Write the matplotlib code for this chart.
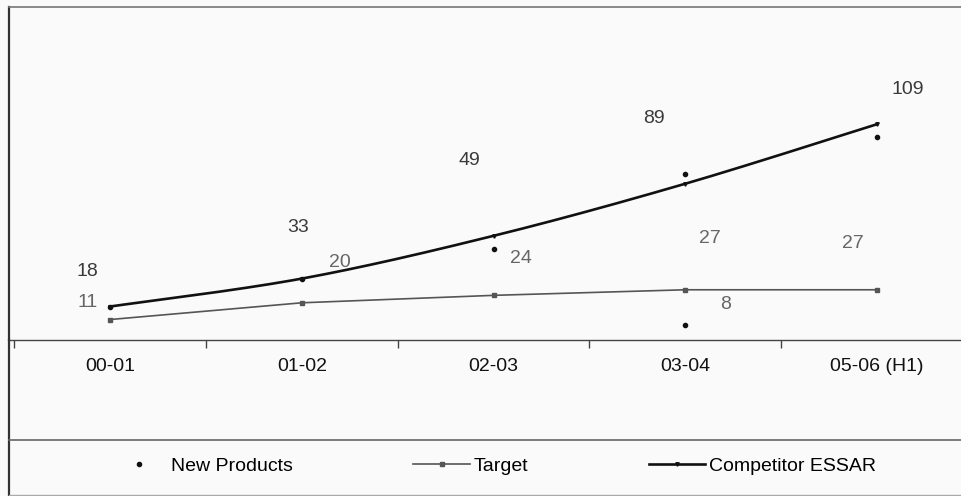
import numpy as np
import matplotlib.pyplot as plt
from matplotlib.lines import Line2D

plt.rcParams['font.family'] = ['Liberation Sans', 'DejaVu Sans']

# data
periods = ["00-01", "01-02", "02-03", "03-04", "05-06 (H1)"]
new_products = [18, 33, 49, 89, 109]
new_products_extra_period = 3
new_products_extra = 8
target = [11, 20, 24, 27, 27]
competitor = [18, 33, 56, 84, 116]


# Excel style smoothed line (bezier through the points)
def smooth(xs, ys, n=40):
    xs = np.asarray(xs, float)
    ys = np.asarray(ys, float)
    px = np.concatenate([[xs[0]], xs, [xs[-1]]])
    py = np.concatenate([[ys[0]], ys, [ys[-1]]])
    t = np.linspace(0, 1, n)
    out_x, out_y = [], []
    for i in range(len(xs) - 1):
        x0, x1, x2, x3 = px[i:i + 4]
        y0, y1, y2, y3 = py[i:i + 4]
        cx1, cy1 = x1 + (x2 - x0) / 6, y1 + (y2 - y0) / 6
        cx2, cy2 = x2 - (x3 - x1) / 6, y2 - (y3 - y1) / 6
        bx = (1 - t) ** 3 * x1 + 3 * (1 - t) ** 2 * t * cx1 + 3 * (1 - t) * t ** 2 * cx2 + t ** 3 * x2
        by = (1 - t) ** 3 * y1 + 3 * (1 - t) ** 2 * t * cy1 + 3 * (1 - t) * t ** 2 * cy2 + t ** 3 * y2
        out_x.extend(bx)
        out_y.extend(by)
    return out_x, out_y


bg = '#fafafa'
fig = plt.figure(figsize=(9.61, 4.96), dpi=100, facecolor=bg)
ax = fig.add_axes([9 / 961, 1 - 340 / 496, 1 - 9 / 961, 333 / 496])
ax.set_facecolor(bg)

x = np.arange(len(periods))

# Target line
ax.plot(x, target, color='#555555', lw=1.2, marker='s', ms=2.5, zorder=3)

# Competitor line
sx, sy = smooth(x, competitor)
ax.plot(sx, sy, color='#111111', lw=1.9, zorder=4)
ax.plot(x, competitor, ls='none', marker='v', ms=2.5, color='#111111', zorder=4)

# New Products dots
ax.plot(x, new_products, ls='none', marker='o', ms=3, color='#111111', zorder=5)
ax.plot([new_products_extra_period], [new_products_extra], ls='none', marker='o',
        ms=3, color='#111111', zorder=5)

# labels
np_off = [(-23, 35), (-4, 51), (-24, 88), (-31, 56), (31, 48)]
tg_off = [(-22, 17), (38, 40), (27, 37), (25, 51), (-24, 46)]
for i, v in enumerate(new_products):
    ax.annotate(str(v), (i, v), xytext=np_off[i], textcoords='offset pixels',
                ha='center', va='center', fontsize=14, color='#3a3a3a')
for i, v in enumerate(target):
    ax.annotate(str(v), (i, v), xytext=tg_off[i], textcoords='offset pixels',
                ha='center', va='center', fontsize=14, color='#666666')
ax.annotate(str(new_products_extra), (new_products_extra_period, new_products_extra),
            xytext=(40, 21), textcoords='offset pixels',
            ha='center', va='center', fontsize=14, color='#666666')

ax.set_xlim(-0.527, 4.438)
ax.set_ylim(0, 179)

ax.set_xticks(x)
ax.set_xticklabels(periods)
ax.set_xticks(np.arange(-0.5, 4.5, 1), minor=True)
ax.tick_params(axis='x', which='major', length=0, pad=13, labelsize=14, labelcolor='#111111')
ax.tick_params(axis='x', which='minor', length=6, width=1, color='#444444', direction='out')
ax.set_yticks([])

ax.spines['right'].set_visible(False)
ax.spines['left'].set_color('#333333')
ax.spines['left'].set_linewidth(1.6)
ax.spines['top'].set_color('#777777')
ax.spines['top'].set_linewidth(1.2)
ax.spines['bottom'].set_color('#444444')
ax.spines['bottom'].set_linewidth(1.0)

# outer box below the plot (legend area)
fig.add_artist(Line2D([9 / 961, 9 / 961], [0, 1 - 340 / 496], color='#333333', lw=1.6))
fig.add_artist(Line2D([9 / 961, 1], [1 - 440 / 496, 1 - 440 / 496], color='#666666', lw=1.2))
fig.add_artist(Line2D([9 / 961, 1], [1 - 495 / 496, 1 - 495 / 496], color='#aaaaaa', lw=1.0))

handles = [
    Line2D([], [], ls='none', marker='o', ms=3, color='#111111'),
    Line2D([], [], color='#555555', lw=1.2, marker='s', ms=2.5),
    Line2D([], [], color='#111111', lw=1.9, marker='v', ms=2.5),
]
fig.legend(handles, ["New Products", "Target", "Competitor ESSAR"], loc='center',
           bbox_to_anchor=(0.5135, 1 - 466 / 496), ncol=3, frameon=False, fontsize=14,
           handlelength=2.9, handletextpad=0.2, columnspacing=6.2)

fig.savefig('out.png', dpi=100, facecolor=bg)
